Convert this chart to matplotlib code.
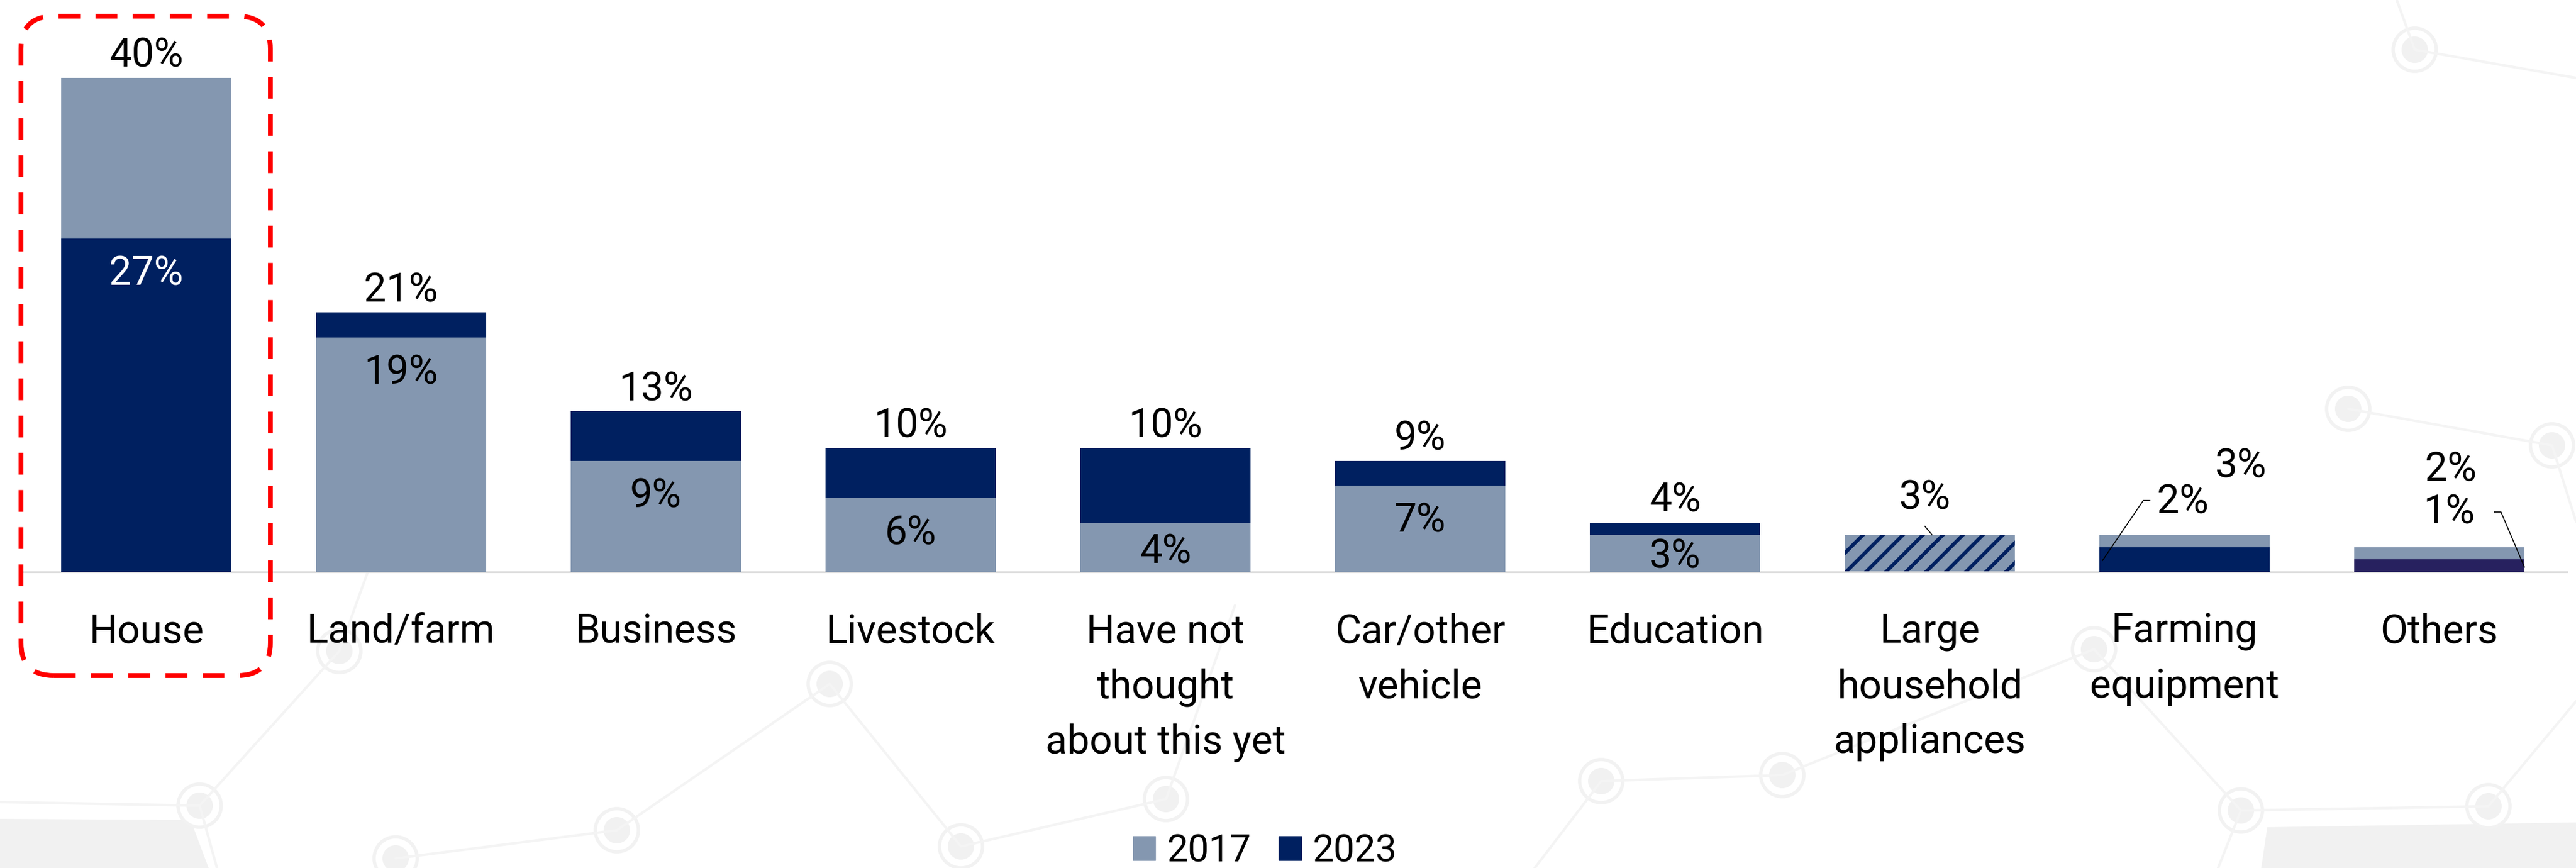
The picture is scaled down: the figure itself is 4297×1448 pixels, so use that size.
import numpy as np
import matplotlib
matplotlib.use("Agg")
import matplotlib.pyplot as plt
from matplotlib import font_manager
from matplotlib.patches import FancyBboxPatch, Patch, Circle, Polygon

# ---- data ----
categories = ["House", "Land/farm", "Business", "Livestock",
              "Have not\nthought\nabout this yet", "Car/other\nvehicle",
              "Education", "Large\nhousehold\nappliances",
              "Farming\nequipment", "Others"]
share_2017 = [40, 19, 9, 6, 4, 7, 3, 3, 3, 2]
share_2023 = [27, 21, 13, 10, 10, 9, 4, 3, 2, 1]
years = ["2017", "2023"]

# ---- style ----
W, H = 4297, 1448
C2017 = "#8497B0"
C2023 = "#002060"
C2023_OTHERS = "#27215F"
BAR_W = 0.668
PX_PER_PCT = 20.6          # vertical pixels per percentage point
BASE_PX = 954              # pixel row of the baseline

names = {f.name for f in font_manager.fontManager.ttflist}
if "Liberation Sans Narrow" in names:
    FONT, FS, FS_LEG = "Liberation Sans Narrow", 54, 52
else:
    FONT, FS, FS_LEG = "Roboto", 48, 45
plt.rcParams["font.family"] = [FONT, "DejaVu Sans"]
plt.rcParams["hatch.linewidth"] = 4.3

fig = plt.figure(figsize=(W / 100, H / 100), dpi=100)
fig.patch.set_facecolor("white")

# faint network decoration behind the chart
bg = fig.add_axes([0, 0, 1, 1], zorder=0)
bg.set_xlim(0, W)
bg.set_ylim(H, 0)
bg.axis("off")
bg.add_patch(Polygon([(0, 1366), (318, 1368), (348, 1448), (0, 1448)],
                     closed=True, color="#f1f1f1", lw=0))
bg.add_patch(Polygon([(3782, 1380), (W, 1372), (W, 1448), (3772, 1448)],
                     closed=True, color="#f1f1f1", lw=0))
nodes = {"A": (4028, 83), "B": (3917, 682), "C": (4257, 743),
         "D": (333, 1344), "E": (566, 1086), "F": (1384, 1141),
         "G": (1029, 1385), "H": (1603, 1412), "I": (1945, 1333),
         "K": (2671, 1303), "L": (2973, 1293), "M": (3493, 1083),
         "N": (3738, 1352), "O": (4151, 1345), "P": (660, 1432)}
edges = [("A", (3998, 0)), ("A", (W, 130)), ("B", "C"), ("C", (W, 870)),
         ("D", "E"), ("D", (0, 1338)), ("D", (362, 1448)), ("E", (640, 880)),
         ("G", "F"), ("F", "H"), ("P", "G"), ("H", "I"), ("I", (2060, 1010)),
         ("K", "L"), ("L", "M"), ("M", "N"), ("N", "O"), ("O", (W, 1170)),
         ("K", (2560, 1448)), ("N", (3700, 1448))]
for a, b in edges:
    p = nodes[a]
    q = nodes[b] if isinstance(b, str) else b
    bg.plot([p[0], q[0]], [p[1], q[1]], color="#f4f4f4", lw=3,
            solid_capstyle="round")
for cx, cy in nodes.values():
    bg.add_patch(Circle((cx, cy), 36, facecolor="white", edgecolor="#f2f2f2", lw=4))
    bg.add_patch(Circle((cx, cy), 22, facecolor="#f1f1f1", lw=0))

# ---- main chart ----
ax = fig.add_axes([31.5 / W, (H - BASE_PX) / H, 4250 / W, BASE_PX / H], zorder=1)
ax.patch.set_alpha(0)
x = np.arange(len(categories))
ax.set_xlim(-0.5, len(categories) - 0.5)
ax.set_ylim(0, BASE_PX / PX_PER_PCT)

for i in x:
    a, b = share_2017[i], share_2023[i]
    dark = C2023_OTHERS if categories[i] == "Others" else C2023
    if a == b:
        ax.bar(i, a, width=BAR_W, color=C2017, edgecolor=dark, hatch="/",
               linewidth=0, zorder=2)
        continue
    # taller bar sits behind the shorter one
    pair = sorted([(a, C2017), (b, dark)], key=lambda t: -t[0])
    for z, (v, c) in enumerate(pair):
        ax.bar(i, v, width=BAR_W, color=c, linewidth=0, zorder=2 + z)

# value labels: taller value above, shorter value inside near its top
for i in range(7):
    a, b = share_2017[i], share_2023[i]
    hi, lo = max(a, b), min(a, b)
    lo_is_dark = b < a
    ax.annotate(f"{hi}%", (i, hi), xytext=(0, 13), textcoords="offset points",
                ha="center", va="baseline", fontsize=FS, color="black", zorder=5)
    ax.text(i, max(lo - 2.9, 0.4 * lo), f"{lo}%", ha="center", va="center",
            fontsize=FS, color="white" if lo_is_dark else "black", zorder=5)

# short bars on the right get labels pulled out with leader lines
lead_kw = dict(color="black", lw=1.2, zorder=5)
txt_kw = dict(ha="center", va="center", fontsize=FS, color="black", zorder=5)

v = share_2017[7]
ax.text(7 - 0.019, 5.97, f"{v}%", **txt_kw)
ax.plot([7 - 0.019, 7 + 0.009], [3.69, v], **lead_kw)

ax.text(8 + 0.221, 8.50, f"{share_2017[8]}%", **txt_kw)
ax.text(8 - 0.007, 5.63, f"{share_2023[8]}%", **txt_kw)
ax.plot([8 - 0.136, 8 - 0.162, 8 - 0.322], [5.78, 5.78, 0.46 * share_2023[8]], **lead_kw)

ax.text(9 + 0.045, 8.25, f"{share_2017[9]}%", **txt_kw)
ax.text(9 + 0.038, 4.76, f"{share_2023[9]}%", **txt_kw)
ax.plot([9 + 0.216, 9 + 0.242, 9 + 0.334], [4.85, 4.85, 0.39 * share_2023[9]], **lead_kw)

ax.set_xticks(x, categories, fontsize=FS)
for lbl in ax.get_xticklabels():
    lbl.set_linespacing(1.56)
ax.tick_params(axis="x", length=0, pad=49)
ax.set_yticks([])
for side in ["left", "right", "top"]:
    ax.spines[side].set_visible(False)
ax.spines["bottom"].set_color("#d9d9d9")
ax.spines["bottom"].set_linewidth(2)

# highlight frame around the first category
frame = FancyBboxPatch((0.35, 3.21), 4.16, 11.00,
                       boxstyle="round,pad=0,rounding_size=0.55",
                       transform=fig.dpi_scale_trans, fill=False,
                       edgecolor="#FF0000", lw=5.8, linestyle=(0, (4.5, 3.2)),
                       zorder=6)
fig.add_artist(frame)

handles = [Patch(color=C2017), Patch(color=C2023)]
fig.legend(handles, years, loc="center", bbox_to_anchor=(2110 / W, 1 - 1420 / H),
           ncol=2, frameon=False, fontsize=FS_LEG, handlelength=0.6,
           handleheight=0.6, handletextpad=0.3, columnspacing=0.75)

fig.savefig("out.png", dpi=100, facecolor="white")
